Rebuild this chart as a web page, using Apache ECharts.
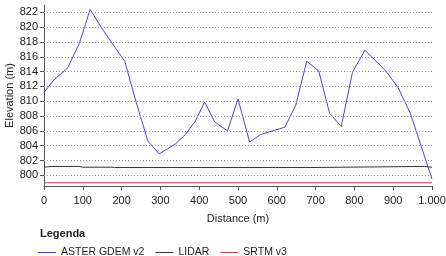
<!DOCTYPE html>
<html>
<head>
<meta charset="utf-8">
<script src="https://cdn.jsdelivr.net/npm/echarts@6/dist/echarts.min.js"></script>
<style>
  html, body { margin: 0; padding: 0; background: #fff; }
  #chart { width: 446px; height: 256px; }
</style>
</head>
<body>
<div id="chart"></div>
<script>
// profile along the transect: distance (m), elevation (m)
const asterDist = [0, 26, 61, 91, 119, 151, 184, 208, 238, 268, 297, 338, 364, 390, 414, 440, 473, 500, 530, 558, 589, 621, 649, 677, 708, 736, 766, 795, 827, 881, 913, 944, 1000];
const asterElev = [811.2, 812.9, 814.5, 817.8, 822.4, 819.7, 817.2, 815.4, 809.8, 804.6, 802.9, 804.2, 805.5, 807.3, 809.9, 807.2, 806.0, 810.3, 804.5, 805.5, 806.0, 806.5, 809.5, 815.4, 814.1, 808.4, 806.6, 813.9, 816.9, 814.1, 811.8, 808.4, 799.5];

const lidarDist = [0, 20, 90, 100, 175, 178, 182, 590, 593, 596, 675, 680, 980, 1000];
const lidarElev = [801.1, 801.2, 801.2, 801.1, 801.1, 801.15, 801.05, 801.05, 801.1, 801.05, 801.05, 801.2, 801.2, 801.1];

const srtmDist = [0, 1000];
const srtmElev = [799.0, 799.0];

const yTicks = [800, 802, 804, 806, 808, 810, 812, 814, 816, 818, 820, 822];

const pairs = (xs, ys) => xs.map((x, i) => [x, ys[i]]);
const font = 'Liberation Sans, Arial, sans-serif';

const chart = echarts.init(document.getElementById('chart'));
chart.setOption({
  animation: false,
  textStyle: { fontFamily: font },
  title: {
    text: 'Legenda',
    left: 35, top: 223,
    textStyle: { fontSize: 11, fontWeight: 'bold', color: '#222', fontFamily: font }
  },
  legend: {
    left: 33, top: 242,
    itemWidth: 18, itemHeight: 1, itemGap: 11,
    icon: 'rect',
    textStyle: { fontSize: 10.5, color: '#222', fontFamily: font },
    data: ['ASTER GDEM v2', 'LIDAR', 'SRTM v3']
  },
  grid: { left: 44, right: 14, top: 5, bottom: 70, outerBoundsMode: 'none' },
  xAxis: {
    type: 'value',
    min: 0, max: 1000, interval: 100,
    name: 'Distance (m)', nameLocation: 'middle', nameGap: 27,
    nameMoveOverlap: false,
    nameTextStyle: { fontSize: 11, color: '#222' },
    axisLine: { lineStyle: { color: '#555' } },
    axisTick: { show: true, length: 4, lineStyle: { color: '#555' } },
    axisLabel: {
      fontSize: 11, color: '#222', margin: 9,
      formatter: v => v >= 1000 ? (v / 1000) + '.000' : String(v)
    },
    splitLine: { show: false }
  },
  yAxis: {
    type: 'value',
    min: 798.56, max: 823,
    name: 'Elevation (m)', nameLocation: 'middle', nameGap: 29,
    nameMoveOverlap: false,
    nameTextStyle: { fontSize: 11, color: '#222' },
    axisLine: { show: true, lineStyle: { color: '#555' } },
    axisTick: { show: true, length: 4, lineStyle: { color: '#555' }, customValues: yTicks },
    axisLabel: { fontSize: 11, color: '#222', margin: 6, customValues: yTicks },
    splitLine: { show: false }
  },
  series: [
    {
      name: 'ASTER GDEM v2', type: 'line', symbol: 'none',
      data: pairs(asterDist, asterElev),
      lineStyle: { color: '#4848d0', width: 1 }, itemStyle: { color: '#4848d0' },
      markLine: {
        silent: true, symbol: 'none', label: { show: false },
        lineStyle: { color: '#999', type: [1, 2], width: 1 },
        data: yTicks.map(v => ({ yAxis: v }))
      },
      z: 3
    },
    {
      name: 'LIDAR', type: 'line', symbol: 'none',
      data: pairs(lidarDist, lidarElev),
      lineStyle: { color: '#333', width: 1 }, itemStyle: { color: '#333' }
    },
    {
      name: 'SRTM v3', type: 'line', symbol: 'none',
      data: pairs(srtmDist, srtmElev),
      lineStyle: { color: '#d04848', width: 1 }, itemStyle: { color: '#d04848' }
    }
  ]
});
</script>
</body>
</html>
